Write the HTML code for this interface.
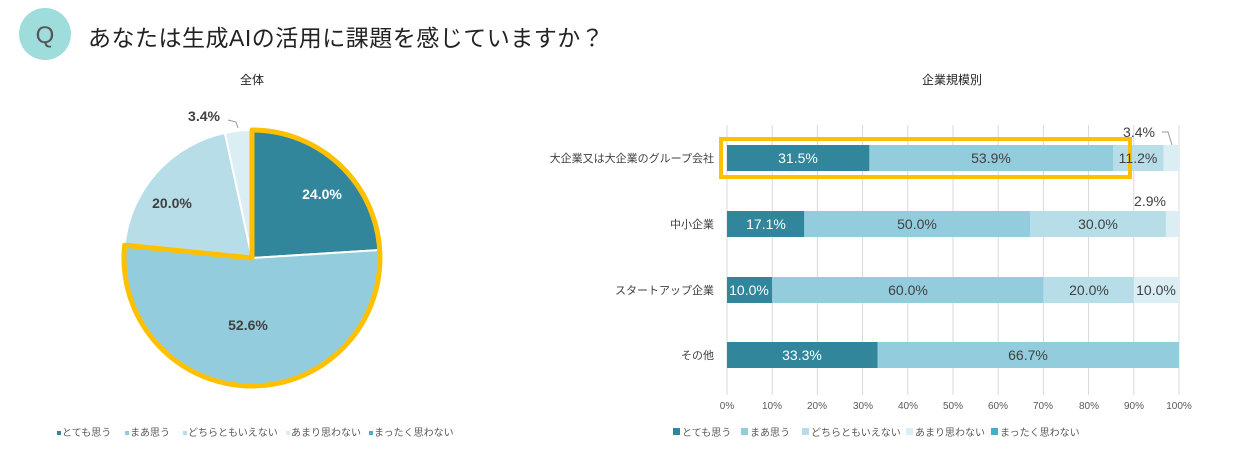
<!DOCTYPE html>
<html><head><meta charset="utf-8"><style>
body{margin:0;background:#fff;font-family:"Liberation Sans","Noto Sans CJK JP",sans-serif;}
svg text{font-family:"Liberation Sans","Noto Sans CJK JP",sans-serif;}
</style></head><body>
<svg width="1237" height="450" viewBox="0 0 1237 450" xmlns="http://www.w3.org/2000/svg">
<circle cx="45" cy="34" r="26" fill="#9fdcdc"/>
<text x="45" y="43" font-size="24" fill="#555" text-anchor="middle">Q</text>
<text x="88" y="46" font-size="23" fill="#222" letter-spacing="0.5">あなたは生成AIの活用に課題を感じていますか？</text>
<text x="252" y="84" font-size="12" fill="#222" text-anchor="middle">全体</text>
<path d="M252,258 L252,130 A128,128 0 0 1 379.8,250 Z" fill="#31869b" stroke="#fff" stroke-width="2"/>
<path d="M252,258 L379.8,250 A128,128 0 1 1 124.6,245.2 Z" fill="#93cddd" stroke="#fff" stroke-width="2"/>
<path d="M252,258 L124.6,245.2 A128,128 0 0 1 224.9,132.9 Z" fill="#b7dde8" stroke="#fff" stroke-width="2"/>
<path d="M252,258 L224.9,132.9 A128,128 0 0 1 252,130 Z" fill="#dbeef3" stroke="#fff" stroke-width="2"/>
<path d="M252,258 L252,130 A128,128 0 1 1 124.6,245.2 Z" fill="none" stroke="#ffc000" stroke-width="5" stroke-linejoin="round"/>
<polyline points="228,120 236,122 238,128" fill="none" stroke="#999" stroke-width="1"/>
<g font-size="14" font-weight="bold" fill="#404040" text-anchor="middle">
<text x="322" y="199" fill="#fff">24.0%</text>
<text x="248" y="330">52.6%</text>
<text x="172" y="208">20.0%</text>
<text x="204" y="121">3.4%</text>
</g>
<g font-size="10" fill="#595959">
<rect x="57" y="431" width="4" height="4" fill="#31869b"/><text x="62" y="436">とても思う</text>
<rect x="125" y="431" width="4" height="4" fill="#93cddd"/><text x="130" y="436">まあ思う</text>
<rect x="183" y="431" width="4" height="4" fill="#b7dde8"/><text x="188" y="436">どちらともいえない</text>
<rect x="286" y="431" width="4" height="4" fill="#dbeef3"/><text x="291" y="436">あまり思わない</text>
<rect x="369" y="431" width="4" height="4" fill="#4bacc6"/><text x="374" y="436">まったく思わない</text>
</g>
<text x="952" y="84" font-size="12" fill="#222" text-anchor="middle">企業規模別</text>
<g stroke="#d9d9d9" stroke-width="1">
<line x1="727" y1="125" x2="727" y2="395"/><line x1="772.2" y1="125" x2="772.2" y2="395"/><line x1="817.4" y1="125" x2="817.4" y2="395"/><line x1="862.6" y1="125" x2="862.6" y2="395"/><line x1="907.8" y1="125" x2="907.8" y2="395"/><line x1="953" y1="125" x2="953" y2="395"/><line x1="998.2" y1="125" x2="998.2" y2="395"/><line x1="1043.4" y1="125" x2="1043.4" y2="395"/><line x1="1088.6" y1="125" x2="1088.6" y2="395"/><line x1="1133.8" y1="125" x2="1133.8" y2="395"/><line x1="1179" y1="125" x2="1179" y2="395"/>
</g>
<g font-size="10" fill="#595959" text-anchor="middle">
<text x="727" y="409">0%</text><text x="772" y="409">10%</text><text x="817" y="409">20%</text><text x="863" y="409">30%</text><text x="908" y="409">40%</text><text x="953" y="409">50%</text><text x="998" y="409">60%</text><text x="1043" y="409">70%</text><text x="1089" y="409">80%</text><text x="1134" y="409">90%</text><text x="1179" y="409">100%</text>
</g>
<g font-size="11" fill="#404040" text-anchor="end">
<text x="714" y="162">大企業又は大企業のグループ会社</text>
<text x="714" y="228">中小企業</text>
<text x="714" y="294">スタートアップ企業</text>
<text x="714" y="359">その他</text>
</g>
<rect x="727" y="145" width="142.4" height="26" fill="#31869b"/>
<rect x="869.4" y="145" width="243.6" height="26" fill="#93cddd"/>
<rect x="1113" y="145" width="50.6" height="26" fill="#b7dde8"/>
<rect x="1163.6" y="145" width="15.4" height="26" fill="#dbeef3"/>
<rect x="727" y="211" width="77.3" height="26" fill="#31869b"/>
<rect x="804.3" y="211" width="226" height="26" fill="#93cddd"/>
<rect x="1030.3" y="211" width="135.6" height="26" fill="#b7dde8"/>
<rect x="1165.9" y="211" width="13.1" height="26" fill="#dbeef3"/>
<rect x="727" y="277" width="45.2" height="26" fill="#31869b"/>
<rect x="772.2" y="277" width="271.2" height="26" fill="#93cddd"/>
<rect x="1043.4" y="277" width="90.4" height="26" fill="#b7dde8"/>
<rect x="1133.8" y="277" width="45.2" height="26" fill="#dbeef3"/>
<rect x="727" y="342" width="150.5" height="26" fill="#31869b"/>
<rect x="877.5" y="342" width="301.5" height="26" fill="#93cddd"/>
<rect x="721" y="139" width="409" height="38" fill="none" stroke="#ffc000" stroke-width="4"/>
<polyline points="1162,132 1168,132 1172,145" fill="none" stroke="#999" stroke-width="1"/>
<g font-size="14" text-anchor="middle">
<text x="798" y="163" fill="#fff">31.5%</text>
<text x="991" y="163" fill="#404040">53.9%</text>
<text x="1138" y="163" fill="#404040">11.2%</text>
<text x="1139" y="137" fill="#404040">3.4%</text>
<text x="766" y="229" fill="#fff">17.1%</text>
<text x="917" y="229" fill="#404040">50.0%</text>
<text x="1098" y="229" fill="#404040">30.0%</text>
<text x="1150" y="206" fill="#404040">2.9%</text>
<text x="749" y="295" fill="#fff">10.0%</text>
<text x="908" y="295" fill="#404040">60.0%</text>
<text x="1089" y="295" fill="#404040">20.0%</text>
<text x="1156" y="295" fill="#404040">10.0%</text>
<text x="802" y="360" fill="#fff">33.3%</text>
<text x="1028" y="360" fill="#404040">66.7%</text>
</g>
<g font-size="10" fill="#595959">
<rect x="673" y="428" width="7" height="7" fill="#31869b"/><text x="682" y="436">とても思う</text>
<rect x="741" y="428" width="7" height="7" fill="#93cddd"/><text x="750" y="436">まあ思う</text>
<rect x="802" y="428" width="7" height="7" fill="#b7dde8"/><text x="811" y="436">どちらともいえない</text>
<rect x="906" y="428" width="7" height="7" fill="#dbeef3"/><text x="915" y="436">あまり思わない</text>
<rect x="991" y="428" width="7" height="7" fill="#4bacc6"/><text x="1000" y="436">まったく思わない</text>
</g>
</svg>
</body></html>
